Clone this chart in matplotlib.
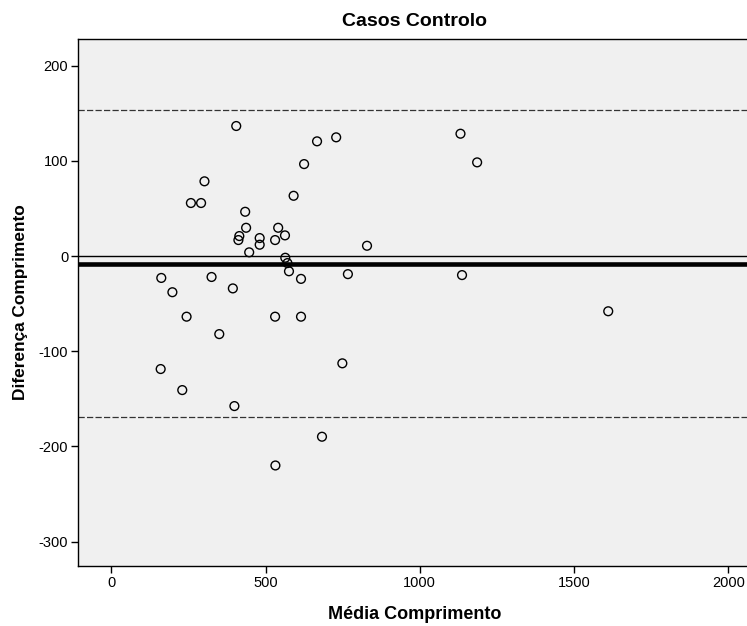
import matplotlib
matplotlib.use('Agg')
import matplotlib.pyplot as plt

plt.rcParams['font.family'] = ['Liberation Sans', 'DejaVu Sans']
plt.rcParams['axes.unicode_minus'] = False

# valores (média vs diferença)
media = [405, 667, 729, 625, 302, 591, 258, 291, 434, 437, 541, 415, 412, 481,
         481, 531, 563, 829, 447, 564, 571, 576, 162, 325, 615, 767, 198, 394,
         1132, 1186, 1137, 1611, 244, 531, 615, 350, 160, 749, 230, 399, 683, 532]
diferenca = [136.6, 120.5, 124.7, 96.6, 78.5, 63.3, 55.7, 55.7, 46.5, 29.7, 29.7,
             21.0, 16.8, 18.9, 11.9, 16.8, 21.7, 10.8, 3.9, -1.8, -7.4, -16.0,
             -23.0, -22.0, -24.0, -19.0, -38.0, -34.0, 128.5, 98.4, -20.0, -58.0,
             -63.7, -63.7, -63.7, -82.0, -118.7, -112.7, -140.8, -157.6, -189.8, -220.0]

media_dif = -8
limite_sup = 153
limite_inf = -169

fig = plt.figure(figsize=(7.47, 6.26), dpi=100)
ax = fig.add_axes([78 / 747, 1 - 566 / 626, 1.005 - 78 / 747, (566 - 39) / 626])
ax.set_facecolor('#f0f0f0')

ax.axhline(0, color='black', lw=1.0, zorder=1)
ax.axhline(media_dif, color='black', lw=3.3, zorder=1)
ax.axhline(limite_sup, color='#333333', lw=0.9, ls=(0, (5, 1.8)), zorder=1)
ax.axhline(limite_inf, color='#333333', lw=0.9, ls=(0, (5, 1.8)), zorder=1)

ax.scatter(media, diferenca, s=40, facecolors='none', edgecolors='black',
           linewidths=1.0, zorder=3)

ax.set_xlim(-108, 2073)
ax.set_ylim(-325.6, 228)
ax.set_xticks([0, 500, 1000, 1500, 2000])
ax.set_yticks([-300, -200, -100, 0, 100, 200])

ax.spines['right'].set_visible(False)
for s in ['left', 'bottom', 'top']:
    ax.spines[s].set_linewidth(1.0)
ax.tick_params(direction='out', length=5, width=1, labelsize=10.5, pad=2)

ax.set_title('Casos Controlo', fontsize=14, fontweight='bold', pad=9)
ax.set_xlabel('Média Comprimento', fontsize=13, fontweight='bold', labelpad=12)
ax.set_ylabel('Diferença Comprimento', fontsize=12.4, fontweight='bold', labelpad=8)

fig.savefig('out.png', dpi=100)
